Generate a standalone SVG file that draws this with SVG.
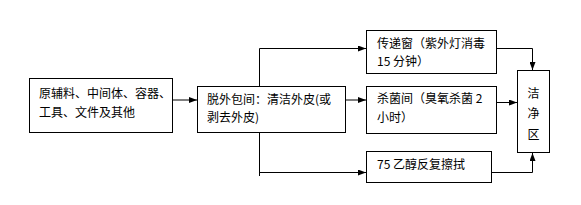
<svg xmlns="http://www.w3.org/2000/svg" width="581" height="205" viewBox="0 0 581 205">
<defs>
<marker id="ah" markerWidth="8" markerHeight="6" refX="8" refY="3" orient="auto" markerUnits="userSpaceOnUse">
<path d="M0,0 L8,3 L0,6 Z" fill="#000"/>
</marker>
<style>
.box{fill:#fff;stroke:#000;stroke-width:1}
.t{font-family:"Noto Sans CJK SC","Liberation Sans",sans-serif;font-size:12px;fill:#000}
.c{fill:none;stroke:#000;stroke-width:1}
</style>
</defs>
<rect width="581" height="205" fill="#fff"/>
<g id="connectors">
<path class="c" d="M173,100 H197" marker-end="url(#ah)"/>
<path class="c" d="M259.5,86 V48.5 H366" marker-end="url(#ah)"/>
<path class="c" d="M259.5,132 V176"/>
<path class="c" d="M259.5,172.5 H366" marker-end="url(#ah)"/>
<path class="c" d="M346,100 H366" marker-end="url(#ah)"/>
<path class="c" d="M497,48.5 H532.5 V70" marker-end="url(#ah)"/>
<path class="c" d="M497,102.5 H517" marker-end="url(#ah)"/>
<path class="c" d="M492,172.5 H532.5 V153" marker-end="url(#ah)"/>
</g>
<g id="n1">
<rect class="box" x="29.5" y="78.5" width="143" height="54"/>
<text class="t" x="39" y="98">原辅料、中间体、容器、</text>
<text class="t" x="39" y="117">工具、文件及其他</text>
</g>
<g id="n2">
<rect class="box" x="197.5" y="86.5" width="148" height="46"/>
<text class="t" x="207" y="104">脱外包间：清洁外皮(或</text>
<text class="t" x="207" y="122">剥去外皮)</text>
</g>
<g id="n3">
<rect class="box" x="366.5" y="30.5" width="130" height="43"/>
<text class="t" x="377" y="48">传递窗（紫外灯消毒</text>
<text class="t" x="377" y="66">15 分钟）</text>
</g>
<g id="n4">
<rect class="box" x="366.5" y="86.5" width="130" height="47"/>
<text class="t" x="377" y="103">杀菌间（臭氧杀菌 2</text>
<text class="t" x="377" y="122">小时）</text>
</g>
<g id="n5">
<rect class="box" x="366.5" y="151.5" width="125" height="31"/>
<text class="t" x="377" y="169">75 乙醇反复擦拭</text>
</g>
<g id="n6">
<rect class="box" x="517.5" y="70.5" width="32" height="82"/>
<text class="t" x="533.5" y="98" text-anchor="middle">洁</text>
<text class="t" x="533.5" y="118" text-anchor="middle">净</text>
<text class="t" x="533.5" y="139" text-anchor="middle">区</text>
</g>
</svg>
